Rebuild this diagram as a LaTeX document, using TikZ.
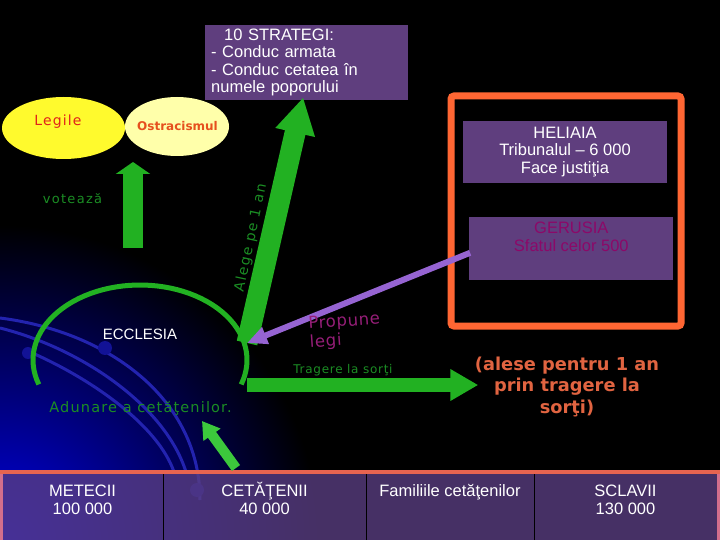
\documentclass[tikz,border=0pt]{standalone}
\usepackage{fontspec}
\setmainfont{Liberation Sans}
\newfontfamily\verdanafont{DejaVu Sans}
\usetikzlibrary{arrows.meta,shapes.geometric,calc}

\newlength{\du}
\setlength{\du}{1\unitlength}

\definecolor{boxpurple}{rgb}{0.372549, 0.243137, 0.494118}
\definecolor{arrowgreen}{rgb}{0.133333, 0.694118, 0.133333}
\definecolor{textgreen}{rgb}{0.105882, 0.552941, 0.141176}
\definecolor{smallgreen}{rgb}{0.235294, 0.784314, 0.235294}
\definecolor{framecolor}{rgb}{1.000000, 0.400000, 0.200000}
\definecolor{lavender}{rgb}{0.588235, 0.392157, 0.823529}
\definecolor{legiyellow}{rgb}{1.000000, 0.980392, 0.176471}
\definecolor{ostrayellow}{rgb}{1.000000, 1.000000, 0.666667}
\definecolor{legired}{rgb}{0.882353, 0.137255, 0.098039}
\definecolor{ostrared}{rgb}{0.901961, 0.313725, 0.117647}
\definecolor{alesered}{rgb}{0.882353, 0.392157, 0.254902}
\definecolor{gerusiatext}{rgb}{0.549020, 0.031373, 0.407843}
\definecolor{propunetext}{rgb}{0.588235, 0.117647, 0.470588}
\definecolor{glowblue}{rgb}{0.000000, 0.000000, 0.901961}
\definecolor{orbitblue}{rgb}{0.137255, 0.137255, 0.686275}
\definecolor{orbitdot}{rgb}{0.070588, 0.070588, 0.588235}
\definecolor{tabletop}{rgb}{0.901961, 0.392157, 0.313725}
\definecolor{tableedge}{rgb}{0.823529, 0.431373, 0.549020}
\definecolor{cellpurple}{rgb}{0.352941, 0.243137, 0.509804}

\tikzset{
  purplebox/.style={rectangle, fill=boxpurple, text=white, inner sep=0pt,
    font=\fontsize{16.5}{17.5}\selectfont},
  bubble/.style={ellipse, inner sep=0pt},
  greenlabel/.style={text=textgreen, inner sep=0pt},
  orbitline/.style={draw=orbitblue, line width=3\du},
  ecclesiaarc/.style={draw=arrowgreen, line width=5\du},
  alegearrow/.style={draw=arrowgreen, line width=21\du,
    -{Triangle[width=38pt, length=36pt]}},
  votarrow/.style={draw=arrowgreen, line width=20\du,
    -{Triangle[width=34pt, length=12pt]}},
  tragerearrow/.style={draw=arrowgreen, line width=14\du,
    -{Triangle[width=30pt, length=28pt]}},
  smallarrow/.style={draw=smallgreen, line width=10\du,
    -{Triangle[width=20pt, length=17pt]}},
  propunearrow/.style={draw=lavender, line width=6\du,
    -{Triangle[width=17pt, length=20pt]}},
  orangeframe/.style={draw=framecolor, line width=7\du, rounded corners=3\du},
  celltext/.style={text=white, inner sep=0pt, align=center, anchor=north,
    font=\fontsize{16.5}{18}\selectfont},
}

\begin{document}
\begin{tikzpicture}
  \pgftransformxscale{1.000000}
  \pgftransformyscale{-1.000000}
  % background
  \fill[black] (0\du,0\du) rectangle (720\du,540\du);
  \begin{scope}
    \clip (0\du,0\du) rectangle (720\du,540\du);
    \shade[inner color=glowblue, outer color=black] (0\du,545\du) circle (320\du);
  \end{scope}
  \useasboundingbox (0\du,0\du) rectangle (720\du,540\du);
  \draw[orbitline] (0\du,318\du) .. controls (110\du,332\du) and (200\du,400\du) .. (200\du,500\du);
  \draw[orbitline] (0\du,328\du) .. controls (80\du,348\du) and (165\du,405\du) .. (186\du,472\du);
  \draw[orbitline] (30\du,352\du) .. controls (90\du,378\du) and (158\du,425\du) .. (174\du,472\du);
  \fill[orbitdot] (28\du,353\du) circle (6\du);
  \fill[orbitdot] (105\du,348\du) circle (7\du);
  \fill[orbitdot] (197\du,490\du) circle (7\du);
  % ecclesia
  \begin{scope}[x=\du, y=\du]
    \draw[ecclesiaarc] plot[domain=161:379, samples=60] ({140+107*cos(\x)},{360+75*sin(\x)});
  \end{scope}
  \node[text=white, inner sep=0pt, font=\fontsize{15}{17}\selectfont] (ecclesia) at (140\du,334.5\du) {ECCLESIA};
  \node[greenlabel, font={\verdanafont\addfontfeature{LetterSpace=8}\fontsize{14.5}{16}\selectfont}] (adunare) at (140.5\du,408\du) {Adunare a cetăţenilor.};
  % legile, ostracismul
  \node[bubble, fill=legiyellow, minimum width=123\du, minimum height=62\du] (legile) at (63.5\du,128\du) {};
  \node[inner sep=0pt, text=legired, font={\verdanafont\addfontfeature{LetterSpace=8}\fontsize{14}{16}\selectfont}] (legiletitle) at (58\du,121.5\du) {Legile};
  \node[bubble, fill=ostrayellow, minimum width=104\du, minimum height=59\du] (ostracism) at (177\du,126.5\du) {};
  \node[inner sep=0pt, text=ostrared, font={\verdanafont\bfseries\fontsize{12}{14}\selectfont}] (ostratitle) at (177.5\du,126.5\du) {Ostracismul};
  \coordinate (votbase) at (133\du,248\du);
  \coordinate (vottip) at (133\du,162\du);
  \draw[votarrow] (votbase) -- (vottip);
  \node[greenlabel, font={\verdanafont\addfontfeature{LetterSpace=10}\fontsize{13}{15}\selectfont}] (voteaza) at (72.5\du,199\du) {votează};
  % strategi, heliaia, gerusia
  \node[purplebox, anchor=north west, minimum width=203\du, minimum height=75\du, text width=191\du, align=left] (strategi) at (205\du,25\du) {\hspace*{13\du}10 STRATEGI:\\- Conduc armata\\- Conduc cetatea în\\numele poporului};
  \draw[orangeframe] (451\du,96\du) rectangle (681\du,326\du);
  \node[purplebox, minimum width=203.5\du, minimum height=62.5\du, align=center] (heliaia) at (565\du,152\du) {HELIAIA\\Tribunalul – 6 000\\Face justiţia};
  \node[purplebox, text=gerusiatext, minimum width=204\du, minimum height=63.5\du, align=center] (gerusia) at (571.3\du,248.3\du) {GERUSIA\\Sfatul celor 500\\\strut};
  % alege pe 1 an
  \coordinate (arcright) at (247\du,343\du);
  \coordinate (arcfoot) at (247\du,385\du);
  \draw[alegearrow] (arcright) -- ($(strategi.south)+(-3.5\du,-3\du)$);
  \node[greenlabel, rotate=78, font={\verdanafont\addfontfeature{LetterSpace=10}\fontsize{14}{16}\selectfont}] (alege) at (251\du,238\du) {Alege pe 1 an};
  % propune legi
  \draw[propunearrow] ($(gerusia.west)+(1\du,4.5\du)$) -- (arcright);
  \node[inner sep=0pt, text=propunetext, rotate=4, anchor=west, align=left, font={\verdanafont\addfontfeature{LetterSpace=4}\fontsize{16.5}{19}\selectfont}] (propune) at (309\du,334\du) {Propune\\legi};
  % tragere la sorti
  \node[greenlabel, font={\verdanafont\addfontfeature{LetterSpace=6}\fontsize{12}{14}\selectfont}] (tragere) at (343\du,370.5\du) {Tragere la sorţi};
  \node[inner sep=0pt, text=alesered, align=center, font={\verdanafont\bfseries\fontsize{17.8}{21.5}\selectfont}] (alese) at (567\du,386.5\du) {(alese pentru 1 an\\prin tragere la\\sorţi)};
  \draw[tragerearrow] (arcfoot) -- ($(alese.west |- arcfoot)+(3.5\du,0\du)$);
  % table
  \fill[cellpurple, opacity=0.78] (2\du,474\du) rectangle (718\du,542\du);
  \draw[tableedge, line width=3\du] (1.5\du,474\du) -- (1.5\du,542\du);
  \draw[tableedge, line width=3\du] (718.5\du,474\du) -- (718.5\du,542\du);
  \draw[tabletop, line width=4\du] (0\du,472\du) -- (720\du,472\du);
  \draw[black, line width=1\du] (163\du,474\du) -- (163\du,542\du);
  \draw[black, line width=1\du] (366\du,474\du) -- (366\du,542\du);
  \draw[black, line width=1\du] (534\du,474\du) -- (534\du,542\du);
  \node[celltext] (metecii) at (82.5\du,481.5\du) {\vphantom{ĂŢ}METECII\\100 000};
  \node[celltext] (cetateni) at (264.5\du,481.5\du) {\vphantom{ĂŢ}CETĂŢENII\\40 000};
  \node[celltext] (familii) at (450\du,481.5\du) {\vphantom{ĂŢ}Familiile cetăţenilor};
  \node[celltext] (sclavi) at (625.5\du,481.5\du) {\vphantom{ĂŢ}SCLAVII\\130 000};
  \draw[smallarrow] ($(cetateni.north)+(-28.5\du,-13.5\du)$) -- ($(adunare)+(61.5\du,13\du)$);
\end{tikzpicture}
\end{document}
